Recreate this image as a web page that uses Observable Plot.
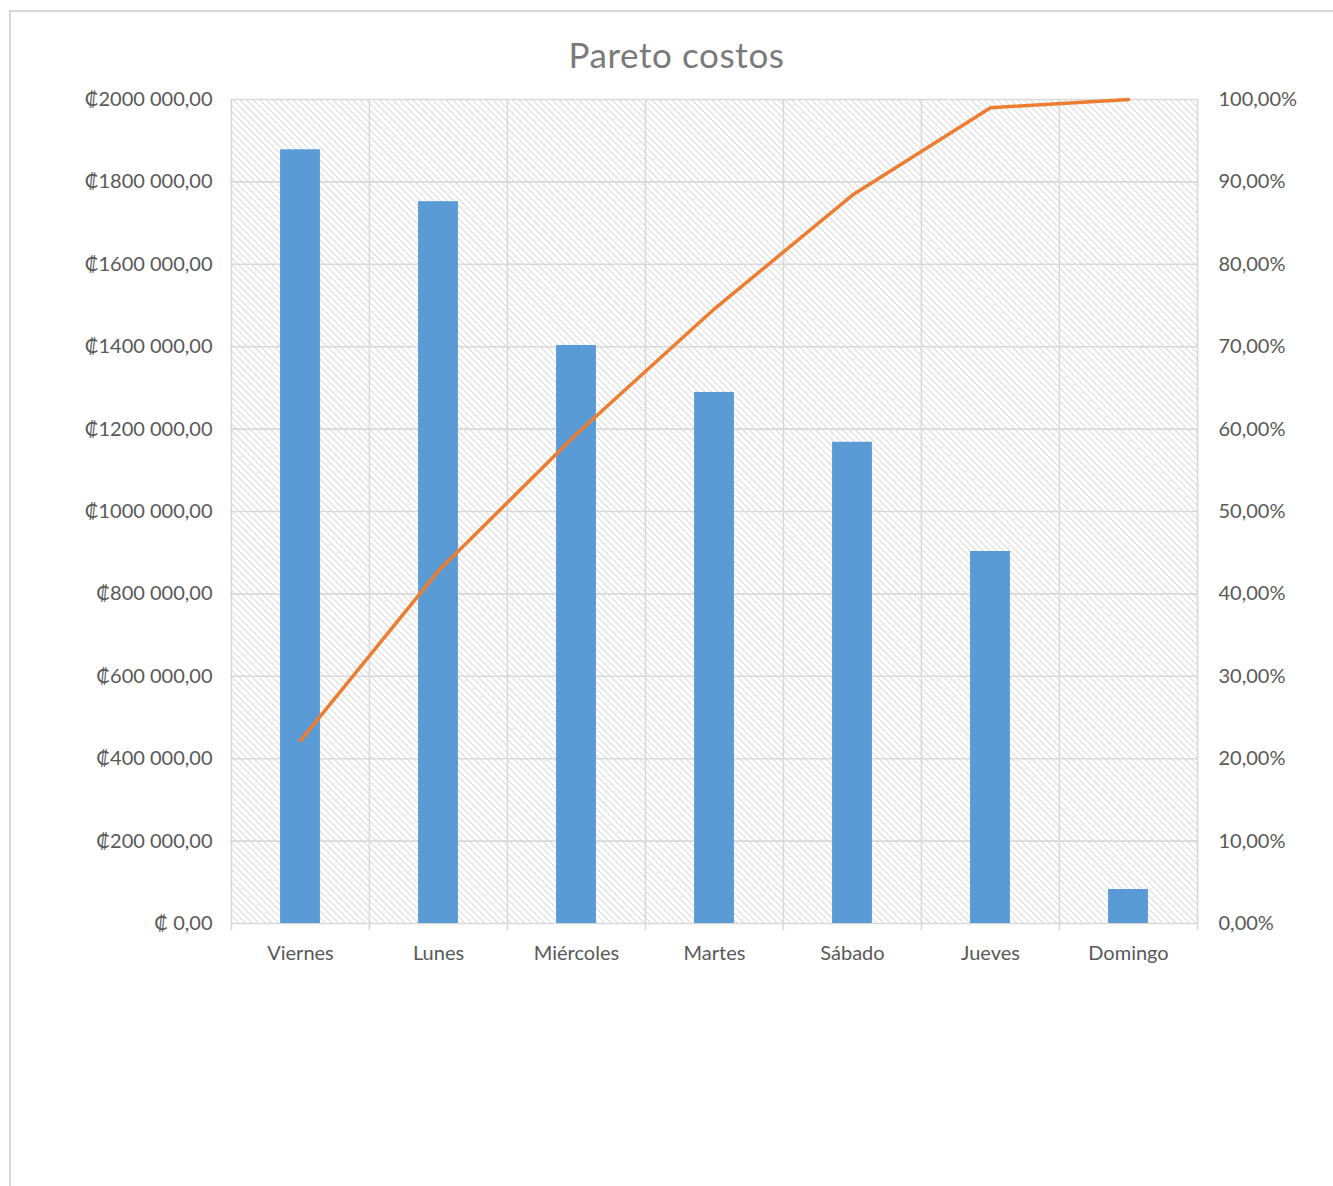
<!DOCTYPE html>
<html>
<head>
<meta charset="utf-8">
<script src="https://cdn.jsdelivr.net/npm/d3@7"></script>
<script src="https://cdn.jsdelivr.net/npm/@observablehq/plot@0.6"></script>
<style>
  html, body { margin: 0; padding: 0; background: #fff; }
  #frame { position: absolute; left: 9px; top: 10px; width: 1340px; height: 1200px;
           border-top: 2px solid #d9d9d9; border-left: 2px solid #d9d9d9; box-sizing: border-box; }
  #title { position: absolute; left: 10px; top: 33px; width: 1333px; text-align: center;
           font-family: Lato, "Open Sans", sans-serif; font-size: 35px; color: #7a7a7a; letter-spacing: 0.6px; }
  #chart { position: absolute; left: 0; top: 80px; }
</style>
</head>
<body>
<div id="frame"></div>
<div id="title">Pareto costos</div>
<div id="chart"></div>
<script>
const days = ["Viernes", "Lunes", "Miércoles", "Martes", "Sábado", "Jueves", "Domingo"];
const costs = [1878000, 1752000, 1403000, 1289000, 1168000, 903000, 82500];
const cumulativePct = [22.2, 42.8, 59.4, 74.6, 88.4, 99.0, 100.0];
const leftTicks = [0, 200000, 400000, 600000, 800000, 1000000, 1200000, 1400000, 1600000, 1800000, 2000000];
const leftLabels = ["₡ 0,00", "₡200 000,00", "₡400 000,00", "₡600 000,00", "₡800 000,00", "₡1000 000,00",
  "₡1200 000,00", "₡1400 000,00", "₡1600 000,00", "₡1800 000,00", "₡2000 000,00"];
const rightLabels = ["0,00%", "10,00%", "20,00%", "30,00%", "40,00%", "50,00%", "60,00%", "70,00%", "80,00%", "90,00%", "100,00%"];

const data = days.map((d, i) => ({day: d, cost: costs[i], cum: cumulativePct[i]}));

const W = 1333, mL = 230, mR = 136, mT = 19, mB = 60, innerH = 824;
const step = (W - mL - mR) / days.length;
const barW = 40;
const inset = (step - barW) / 2;

const svg = Plot.plot({
  width: W,
  height: mT + innerH + mB,
  marginLeft: mL,
  marginRight: mR,
  marginTop: mT,
  marginBottom: mB,
  style: {fontFamily: "Lato, 'Open Sans', sans-serif", color: "#595959", background: "transparent"},
  x: {domain: days, padding: 0, axis: null},
  y: {domain: [0, 2000000], axis: null},
  marks: [
    Plot.frame({fill: "url(#hatch)", stroke: null}),
    Plot.ruleY(leftTicks, {stroke: "#d9d9d9", strokeWidth: 1.6}),
    Plot.ruleX(days, {x: d => d, dx: -step / 2, stroke: "#d9d9d9", strokeWidth: 1.6, insetBottom: -7}),
    Plot.ruleX([days[days.length - 1]], {x: d => d, dx: step / 2, stroke: "#d9d9d9", strokeWidth: 1.6, insetBottom: -7}),
    Plot.barY(data, {x: "day", y: "cost", fill: "#5b9bd5", insetLeft: inset, insetRight: inset}),
    Plot.line(data, {x: "day", y: d => d.cum / 100 * 2000000, stroke: "#ed7d31", strokeWidth: 3.5, strokeLinejoin: "round"}),
    Plot.axisY(leftTicks, {anchor: "left", label: null, tickSize: 0, tickPadding: 18, fontSize: 20,
      tickFormat: d => leftLabels[leftTicks.indexOf(d)]}),
    Plot.axisY(leftTicks, {anchor: "right", label: null, tickSize: 0, tickPadding: 21, fontSize: 20,
      tickFormat: d => rightLabels[leftTicks.indexOf(d)]}),
    Plot.axisX(days, {anchor: "bottom", label: null, tickSize: 0, tickPadding: 22, fontSize: 20})
  ]
});

d3.select(svg).insert("defs", ":first-child").html(
  '<pattern id="hatch" patternUnits="userSpaceOnUse" width="4.7" height="4.7" patternTransform="rotate(-45)">' +
  '<rect width="4.7" height="4.7" fill="#ffffff"/>' +
  '<line x1="0" y1="0" x2="0" y2="4.7" stroke="#d6d6d6" stroke-width="1.8"/></pattern>'
);

document.getElementById("chart").appendChild(svg);
</script>
</body>
</html>
